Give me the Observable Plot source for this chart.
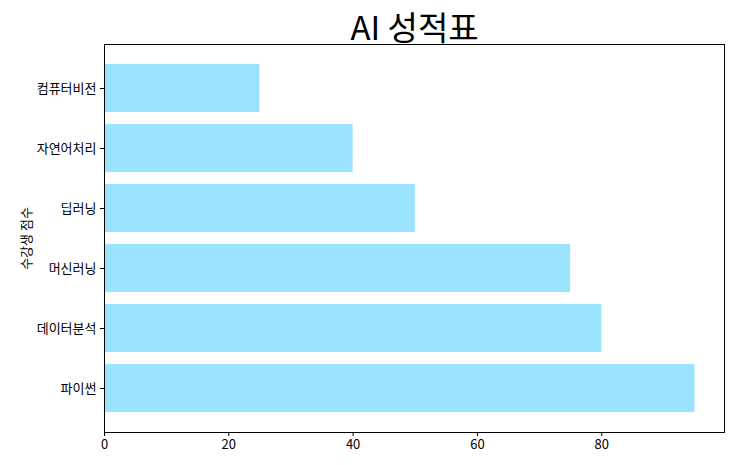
<!DOCTYPE html>
<html><head><meta charset="utf-8">
<script src="https://cdn.jsdelivr.net/npm/d3@7"></script>
<script src="https://cdn.jsdelivr.net/npm/@observablehq/plot@0.6"></script>
<style>
body{margin:0;background:#fff;font-family:"Noto Sans CJK KR",sans-serif;}
</style>
</head><body><div id="chart"></div>
<script>
const subjects = ["파이썬","데이터분석","머신러닝","딥러닝","자연어처리","컴퓨터비전"];
const scores = [95, 80, 75, 50, 40, 25];
const xTicks = [0, 20, 40, 60, 80];
const title = "AI 성적표";
const yLabel = "수강생 점수";

const data = subjects.map((s,i)=>({subject:s, score:scores[i]}));
const W = 734, H = 465, mL = 104, mR = 10, mT = 44, mB = 33;

const chart = Plot.plot({
  width: W, height: H,
  marginLeft: mL, marginRight: mR, marginTop: mT, marginBottom: mB,
  style: {fontFamily: '"Noto Sans CJK KR", sans-serif', fontSize: "13px", color: "#000", background: "#fff"},
  x: {domain: [0, 99.75], ticks: xTicks, tickSize: 4, label: null, tickFormat: d=>String(d)},
  y: {domain: subjects.slice().reverse(), paddingInner: 0.2, paddingOuter: 0.29, tickSize: 4, label: null},
  marks: [
    Plot.barX(data, {x: "score", y: "subject", fill: "#99e3fe"}),
    Plot.frame({stroke: "#000", strokeWidth: 1}),
    Plot.axisX({ticks: xTicks, tickSize: 4, tickPadding: 3, fontSize: 13}),
    Plot.axisY({tickSize: 4, tickPadding: 4, fontSize: 13, label: null}),
    Plot.text([title], {frameAnchor: "top", dy: -28, text: d=>d, fontSize: 33, fill: "#000"}),
    Plot.text([yLabel], {frameAnchor: "left", textAnchor: "middle", dx: -78, rotate: -90, text: d=>d, fontSize: 13, fill: "#000"})
  ]
});
document.getElementById("chart").appendChild(chart);
</script>
</body></html>
